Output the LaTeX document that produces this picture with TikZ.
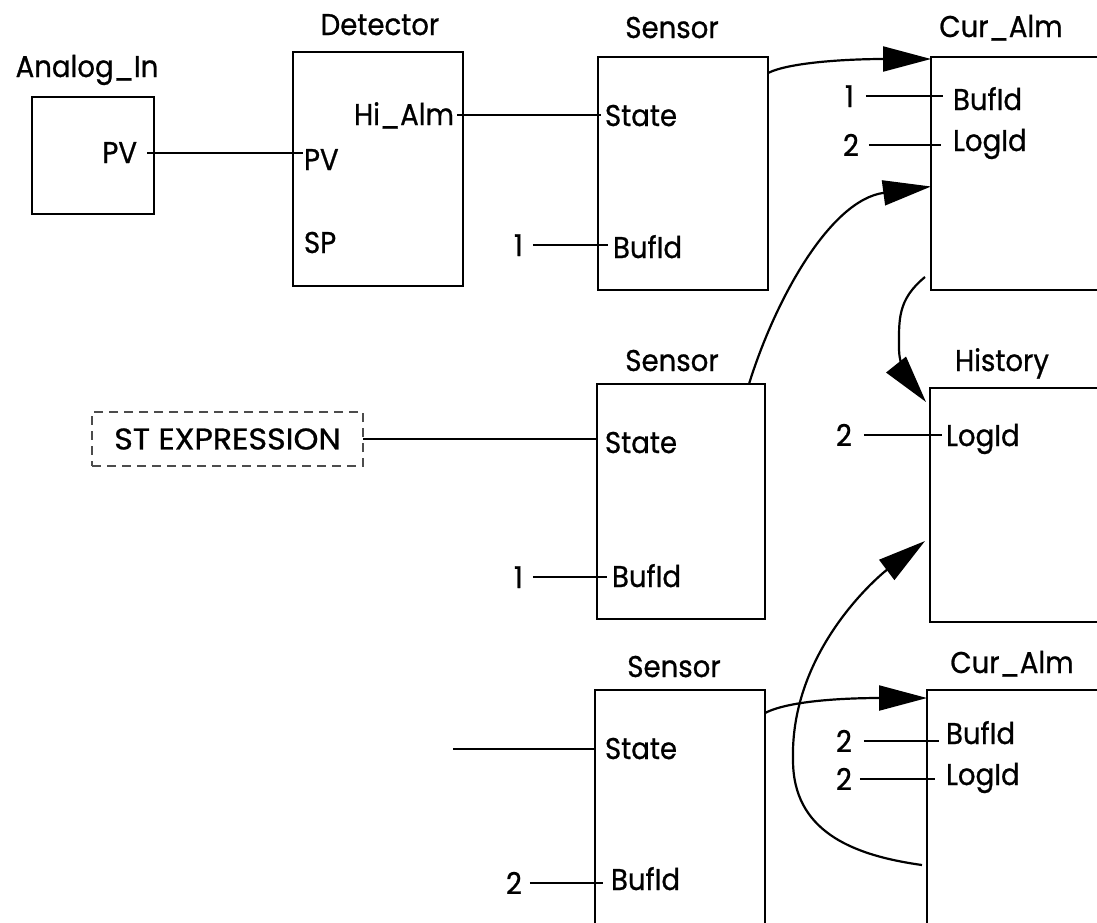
\documentclass[tikz,border=0pt]{standalone}
\usepackage{fontspec}
\setmainfont{Poppins}[FakeStretch=0.92,FakeBold=0.8]
\usetikzlibrary{arrows.meta,calc}
\newcommand{\lblfont}{\fontsize{30}{36}\selectfont}
\begin{document}
\begin{tikzpicture}[x=1pt,y=-1pt,
  box/.style={draw, line width=2.2pt, rectangle, inner sep=0pt, outer sep=0pt},
  lbl/.style={inner sep=0pt, outer sep=0pt, font=\lblfont, anchor=base west},
  ttl/.style={inner sep=0pt, outer sep=0pt, font=\lblfont, anchor=base},
  wire/.style={line width=2pt},
  flow/.style={line width=2.2pt, -{Triangle[length=48pt,width=25pt]}},
]
\useasboundingbox (0,0) rectangle (1097,922);
\fill[white] (0,0) rectangle (1097,922);
\clip (0,0) rectangle (1097,922);

% boxes
\node[box, minimum width=122pt, minimum height=117pt] (ai) at (93,155.5) {};
\node[box, minimum width=170pt, minimum height=234pt] (det) at (378,169) {};
\node[box, minimum width=170pt, minimum height=233pt] (s1) at (683,173.5) {};
\node[box, minimum width=240pt, minimum height=233pt] (c1) at (1051,173.5) {};
\node[box, minimum width=168pt, minimum height=235pt] (s2) at (681,501.5) {};
\node[box, minimum width=240pt, minimum height=234pt] (hist) at (1050,505) {};
\node[box, minimum width=170pt, minimum height=280pt] (s3) at (680,830) {};
\node[box, minimum width=240pt, minimum height=280pt] (c2) at (1047,830) {};
\node[box, dashed, dash pattern=on 9pt off 6pt, line width=1.4pt, draw=black!70,
      minimum width=271pt, minimum height=54pt, font=\lblfont] (st) at (227.5,439)
      {\scalebox{1.15}[1]{ST EXPRESSION}};

% titles
\node[ttl] (tai) at (87,77) {Analog\_In};
\node[ttl] (tdet) at (380,35) {Detector};
\node[ttl] (ts1) at (672,38) {Sensor};
\node[ttl] (tc1) at (1001,37) {Cur\_Alm};
\node[ttl] (ts2) at (672,371) {Sensor};
\node[ttl] (thist) at (1002,371) {History};
\node[ttl] (ts3) at (674,677) {Sensor};
\node[ttl] (tc2) at (1012,673) {Cur\_Alm};

% port labels
\node[lbl, anchor=base east] (aipv) at (137,163) {PV};
\node[lbl] (detpv) at (304,170) {PV};
\node[lbl] (detsp) at (304,253) {SP};
\node[lbl, anchor=base east] (hialm) at (454,125) {Hi\_Alm};
\node[lbl] (s1st) at (605,126) {State};
\node[lbl] (s1buf) at (613,258) {BufId};
\node[lbl] (c1buf) at (953,110) {BufId};
\node[lbl] (c1log) at (953,151) {LogId};
\node[lbl] (s2st) at (605,453) {State};
\node[lbl] (s2buf) at (612,587) {BufId};
\node[lbl] (hlog) at (946,446) {LogId};
\node[lbl] (s3st) at (605,759) {State};
\node[lbl] (s3buf) at (611,890) {BufId};
\node[lbl] (c2buf) at (946,744) {BufId};
\node[lbl] (c2log) at (946,785) {LogId};

% constants
\node[lbl] (n1) at (514,256) {1};
\node[lbl] (n2) at (514,588) {1};
\node[lbl] (n3) at (845,107) {1};
\node[lbl] (n4) at (843,156) {2};
\node[lbl] (n5) at (836,446) {2};
\node[lbl] (n6) at (506,894) {2};
\node[lbl] (n7) at (836,752) {2};
\node[lbl] (n8) at (836,790) {2};
\coordinate (free3) at (453,749);

% wires
\draw[wire] ([xshift=10pt]aipv.east) -- ([xshift=10pt]aipv.east -| det.west);
\draw[wire] ([xshift=3pt]hialm.east) -- ([xshift=3pt]hialm.east -| s1.west);
\draw[wire] (st.east) -- (st.east -| s2.west);
\draw[wire] (free3) -- (free3 -| s3.west);
\draw[wire] ([xshift=10pt]n1.east) -- ([xshift=10pt]n1.east -| s1.west);
\draw[wire] ([xshift=10pt]n2.east) -- ([xshift=10pt]n2.east -| s2.west);
\draw[wire] ([xshift=12pt]n3.east) -- ([xshift=12pt]n3.east -| c1.west);
\draw[wire] ([xshift=10pt]n4.east) -- ([xshift=10pt]n4.east -| c1.west);
\draw[wire] ([xshift=12pt]n5.east) -- ([xshift=12pt]n5.east -| hist.west);
\draw[wire] ([xshift=8pt]n6.east) -- ([xshift=8pt]n6.east -| s3.west);
\draw[wire] ([xshift=12pt]n7.east) -- ([xshift=12pt]n7.east -| c2.west);
\draw[wire] ([xshift=8pt]n8.east) -- ([xshift=8pt]n8.east -| c2.west);

% flows
\coordinate (a0) at ([yshift=-16pt]s1.north east);
\coordinate (a1) at ([yshift=-2pt]c1.north west);
\draw[flow] (a0) .. controls (790,62) and (850,59) .. (a1);
\coordinate (b0) at ([xshift=-16pt]s2.north east);
\coordinate (b1) at ([yshift=-13pt]c1.west);
\draw[flow] (b0) .. controls (775,300) and (830,200) .. (b1);
\coordinate (c0) at ([xshift=-6pt,yshift=13pt]c1.south west);
\coordinate (c3) at ([xshift=-4pt,yshift=-14pt]hist.north west);
\draw[flow] (c0) .. controls (897,300) and (899,320) .. (899,350)
               .. controls (899,365) and (910,382) .. (c3);
\coordinate (d0) at ([xshift=-5pt,yshift=-35pt]c2.west);
\coordinate (d1) at ([xshift=-5pt,yshift=-36pt]hist.west);
\draw[flow] (d0) .. controls (850,855) and (793,830) .. (793,760)
               .. controls (790,650) and (880,575) .. (d1);
\coordinate (e0) at ([yshift=-23pt]s3.north east);
\draw[flow] (e0) .. controls (790,700) and (850,698) .. ([yshift=-8pt]c2.north west);
\end{tikzpicture}
\end{document}
